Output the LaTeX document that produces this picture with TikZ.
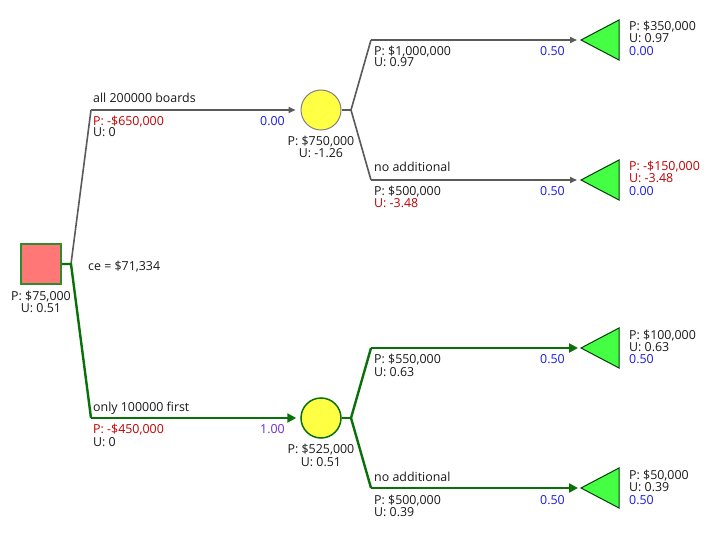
\documentclass[tikz,border=0pt]{standalone}
\usepackage{fontspec}
\setmainfont{Open Sans}
\usetikzlibrary{arrows.meta}
\definecolor{txt}{HTML}{1A1A1A}
\definecolor{red}{HTML}{C00000}
\definecolor{blu}{HTML}{1A1AE6}
\definecolor{pur}{HTML}{6A2CD8}
\definecolor{gline}{HTML}{5A5A5A}
\definecolor{grn}{HTML}{0A700A}
\definecolor{sqfill}{HTML}{FF7777}
\definecolor{sqdraw}{HTML}{2E8B2E}
\definecolor{yel}{HTML}{FFFF44}
\definecolor{lf}{HTML}{44FF44}
\tikzset{
  lbl/.style={inner sep=0pt, font=\fontsize{12.4}{12}\selectfont, text=txt},
  lw/.style={lbl, anchor=base west},
  le/.style={lbl, anchor=base east},
  lc/.style={lbl, anchor=base},
  grey/.style={draw=gline, line width=1.6pt},
  green/.style={draw=grn, line width=2.4pt},
  garr/.style={grey, -{Triangle[length=7pt,width=6pt]}, shorten >=5pt},
  narr/.style={green, -{Triangle[length=9pt,width=9pt]}, shorten >=4pt},
  decbox/.style={draw=sqdraw, fill=sqfill, line width=1.5pt, minimum size=40pt, inner sep=0pt},
  chance/.style={circle, fill=yel, minimum size=40pt, inner sep=0pt},
  leafs/.style={fill=lf, draw=black!75!green, line width=1pt, line join=miter},
}
\begin{document}
\begin{tikzpicture}[x=1pt,y=-1pt]
\useasboundingbox (0,0) rectangle (723,548);
\fill[white] (0,0) rectangle (723,548);

% nodes
\node[decbox] (sq) at (41,264) {};
\node[chance, draw=gray, line width=1pt] (c1) at (321,110) {};
\node[chance, draw=grn, line width=1.5pt] (c2) at (321,418) {};

% leaves
\coordinate (t1) at (581,40);
\coordinate (t2) at (581,180);
\coordinate (t3) at (581,348);
\coordinate (t4) at (581,488);
\foreach \t in {t1,t2,t3,t4}{
  \path[leafs] (\t) -- ++(38,-20) -- ++(0,40) -- cycle;
}

% junction coordinates
\coordinate (j0) at (71,264);
\coordinate (k1) at (91,110);
\coordinate (k2) at (91,418);
\coordinate (j1) at (351,110);
\coordinate (j2) at (351,418);
\coordinate (m1) at (371,40);
\coordinate (m2) at (371,180);
\coordinate (m3) at (371,348);
\coordinate (m4) at (371,488);

% connectors
\draw[grey] (j0) -- (k1);
\draw[garr] (k1) -- (c1.west);
\draw[grey] (c1.east) -- (j1);
\draw[grey] (j1) -- (m1);
\draw[grey] (j1) -- (m2);
\draw[garr, shorten >=4pt] (m1) -- (t1);
\draw[garr, shorten >=4pt] (m2) -- (t2);

\draw[green] (sq.east) -- (j0) -- (k2);
\draw[narr] (k2) -- (c2.west);
\draw[green] (c2.east) -- (j2);
\draw[green] (j2) -- (m3);
\draw[green] (j2) -- (m4);
\draw[narr, shorten >=3pt] (m3) -- (t3);
\draw[narr, shorten >=3pt] (m4) -- (t4);

% root labels
\node[lc] (r1) at (41,300) {P: \$75,000};
\node[lc] (r2) at (41,312) {U: 0.51};
\node[lw] (ce) at (88,270) {ce = \$71,334};

% upper decision branch
\node[lw] (b1) at (93,103) {all 200000 boards};
\node[lw, text=red] (b1p) at (93,126) {P: -\$650,000};
\node[lw] (b1u) at (93,137) {U: 0};
\node[le, text=blu] (b1q) at (285,126) {0.00};
\node[lc] (c1p) at (321,146) {P: \$750,000};
\node[lc] (c1u) at (321,158) {U: -1.26};

% upper chance branches
\node[lw] (e1p) at (374,56) {P: \$1,000,000};
\node[lw] (e1u) at (374,67) {U: 0.97};
\node[le, text=blu] (e1q) at (565,56) {0.50};
\node[lw] (l1p) at (629,31) {P: \$350,000};
\node[lw] (l1u) at (629,43) {U: 0.97};
\node[lw, text=blu] (l1q) at (629,56) {0.00};

\node[lw] (e2) at (374,172) {no additional};
\node[lw] (e2p) at (374,196) {P: \$500,000};
\node[lw, text=red] (e2u) at (374,208) {U: -3.48};
\node[le, text=blu] (e2q) at (565,196) {0.50};
\node[lw, text=red] (l2p) at (629,171) {P: -\$150,000};
\node[lw, text=red] (l2u) at (629,183) {U: -3.48};
\node[lw, text=blu] (l2q) at (629,196) {0.00};

% lower decision branch
\node[lw] (b2) at (93,411) {only 100000 first};
\node[lw, text=red] (b2p) at (93,433) {P: -\$450,000};
\node[lw] (b2u) at (93,446) {U: 0};
\node[le, text=pur] (b2q) at (285,433) {1.00};
\node[lc] (c2p) at (321,453) {P: \$525,000};
\node[lc] (c2u) at (321,466) {U: 0.51};

% lower chance branches
\node[lw] (e3p) at (374,363) {P: \$550,000};
\node[lw] (e3u) at (374,376) {U: 0.63};
\node[le, text=blu] (e3q) at (565,363) {0.50};
\node[lw] (l3p) at (629,339) {P: \$100,000};
\node[lw] (l3u) at (629,351) {U: 0.63};
\node[lw, text=blu] (l3q) at (629,363) {0.50};

\node[lw] (e4) at (374,481) {no additional};
\node[lw] (e4p) at (374,504) {P: \$500,000};
\node[lw] (e4u) at (374,516) {U: 0.39};
\node[le, text=blu] (e4q) at (565,504) {0.50};
\node[lw] (l4p) at (629,479) {P: \$50,000};
\node[lw] (l4u) at (629,491) {U: 0.39};
\node[lw, text=blu] (l4q) at (629,504) {0.50};
\end{tikzpicture}
\end{document}
